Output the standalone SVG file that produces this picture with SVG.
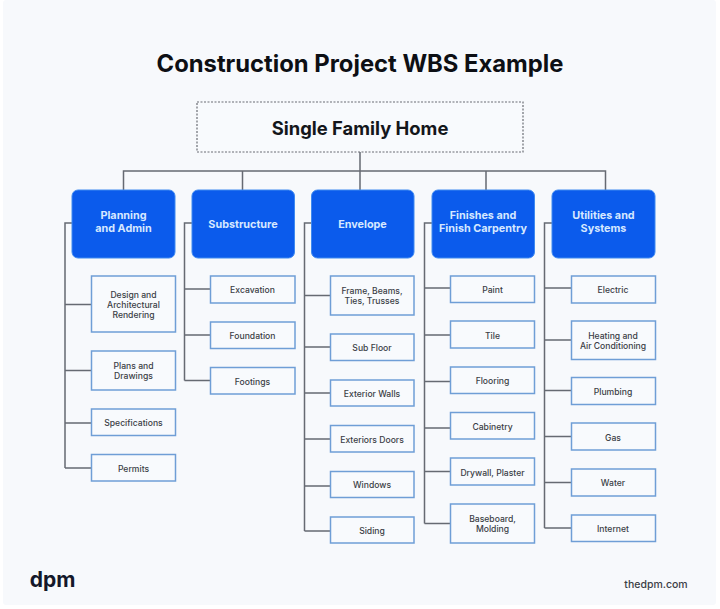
<svg xmlns="http://www.w3.org/2000/svg" width="720" height="609" viewBox="0 0 720 609">
<style>
text{font-family:Inter,"Noto Sans","Liberation Sans",sans-serif;text-anchor:middle}
.t{font-size:23.8px;font-weight:700;fill:#0d0f14}
.r{font-size:18.400px;font-weight:700;fill:#14161b}
.p rect{fill:#0b5bec;stroke:#3f8af0;stroke-width:1}
.p text{font-size:10.800px;font-weight:700;fill:#d6e8ff}
.c rect{fill:#f8fafd;stroke:#6f9ed6;stroke-width:1.5}
.c text{font-size:8.600px;font-weight:500;fill:#3b3e46}
#connectors path{fill:none;stroke:#666a72;stroke-width:1.5}
</style>
<rect width="720" height="609" fill="#fff"/>
<rect x="3" y="0" width="713" height="605" rx="3" fill="#f7f9fc"/>
<text class="t" x="360" y="71.500">Construction Project WBS Example</text>
<g id="connectors">
<path d="M360 152V190M123.500 190V171H605.500V190M242.500 171V190M486 171V190"/>
<path d="M72 223H65V468M65 304.500H91.500M65 370.500H91.500M65 423H91.500M65 468H91.500"/>
<path d="M192 223H184.500V380.500M184.500 289H210.500M184.500 335H210.500M184.500 380.500H210.500"/>
<path d="M311.500 223H304.500V531M304.500 295.500H330.500M304.500 347H330.500M304.500 393H330.500M304.500 439H330.500M304.500 486H330.500M304.500 531H330.500"/>
<path d="M432 223H424.500V523.500M424.500 288H450.500M424.500 335H450.500M424.500 381.500H450.500M424.500 428H450.500M424.500 471.500H450.500M424.500 523.500H450.500"/>
<path d="M552 223H544.500V528M544.500 288H571.500M544.500 340H571.500M544.500 390.500H571.500M544.500 436.500H571.500M544.500 482.500H571.500M544.500 528H571.500"/>
</g>
<g id="root"><rect x="197" y="102" width="326" height="50" fill="#f8fafd" stroke="#6a6d74" stroke-width="1.2" stroke-dasharray="2 1.500"/><text class="r" x="360" y="135">Single Family Home</text></g>
<g id="n-planning" class="p"><rect x="72" y="190" width="103" height="68" rx="6"/><text x="123.500" y="219">Planning</text><text x="123.500" y="231.500">and Admin</text></g>
<g id="n-substructure" class="p"><rect x="192" y="190" width="102.500" height="68" rx="6"/><text x="243" y="228">Substructure</text></g>
<g id="n-envelope" class="p"><rect x="311.500" y="190" width="102.500" height="68" rx="6"/><text x="362.500" y="228">Envelope</text></g>
<g id="n-finishes" class="p"><rect x="432" y="190" width="102.500" height="68" rx="6"/><text x="483" y="219">Finishes and</text><text x="483" y="231.500">Finish Carpentry</text></g>
<g id="n-utilities" class="p"><rect x="552" y="190" width="103" height="68" rx="6"/><text x="603.500" y="219">Utilities and</text><text x="603.500" y="231.500">Systems</text></g>

<g id="c1-1" class="c"><rect x="91.500" y="276" width="84" height="56"/><text x="133.500" y="298">Design and</text><text x="133.500" y="308">Architectural</text><text x="133.500" y="318">Rendering</text></g>
<g id="c1-2" class="c"><rect x="91.500" y="351" width="84" height="39"/><text x="133.500" y="369">Plans and</text><text x="133.500" y="379">Drawings</text></g>
<g id="c1-3" class="c"><rect x="91.500" y="409" width="84" height="26.500"/><text x="133.500" y="426">Specifications</text></g>
<g id="c1-4" class="c"><rect x="91.500" y="454.500" width="84" height="26.500"/><text x="133.500" y="471.500">Permits</text></g>

<g id="c2-1" class="c"><rect x="210.500" y="276" width="84.500" height="27"/><text x="252.500" y="293">Excavation</text></g>
<g id="c2-2" class="c"><rect x="210.500" y="322" width="84.500" height="26.500"/><text x="252.500" y="339">Foundation</text></g>
<g id="c2-3" class="c"><rect x="210.500" y="367.500" width="84.500" height="26.500"/><text x="252.500" y="384.500">Footings</text></g>

<g id="c3-1" class="c"><rect x="330.500" y="276" width="83.500" height="39"/><text x="372" y="294">Frame, Beams,</text><text x="372" y="304">Ties, Trusses</text></g>
<g id="c3-2" class="c"><rect x="330.500" y="334" width="83.500" height="26.500"/><text x="372" y="351">Sub Floor</text></g>
<g id="c3-3" class="c"><rect x="330.500" y="380" width="83.500" height="26"/><text x="372" y="396.500">Exterior Walls</text></g>
<g id="c3-4" class="c"><rect x="330.500" y="425.500" width="83.500" height="26.500"/><text x="372" y="442.500">Exteriors Doors</text></g>
<g id="c3-5" class="c"><rect x="330.500" y="471.500" width="83.500" height="26"/><text x="372" y="488">Windows</text></g>
<g id="c3-6" class="c"><rect x="330.500" y="517" width="83.500" height="26"/><text x="372" y="534">Siding</text></g>

<g id="c4-1" class="c"><rect x="450.500" y="276" width="84" height="26.500"/><text x="492.500" y="293">Paint</text></g>
<g id="c4-2" class="c"><rect x="450.500" y="321" width="84" height="27"/><text x="492.500" y="338.500">Tile</text></g>
<g id="c4-3" class="c"><rect x="450.500" y="367" width="84" height="26.500"/><text x="492.500" y="384">Flooring</text></g>
<g id="c4-4" class="c"><rect x="450.500" y="412.500" width="84" height="26.500"/><text x="492.500" y="429.500">Cabinetry</text></g>
<g id="c4-5" class="c"><rect x="450.500" y="458" width="84" height="27"/><text x="492.500" y="475.500">Drywall, Plaster</text></g>
<g id="c4-6" class="c"><rect x="450.500" y="504" width="84" height="39"/><text x="492.500" y="522">Baseboard,</text><text x="492.500" y="532">Molding</text></g>

<g id="c5-1" class="c"><rect x="571.500" y="276" width="84" height="27"/><text x="613" y="293">Electric</text></g>
<g id="c5-2" class="c"><rect x="571.500" y="321" width="84" height="38.500"/><text x="613" y="339">Heating and</text><text x="613" y="349">Air Conditioning</text></g>
<g id="c5-3" class="c"><rect x="571.500" y="377.500" width="84" height="27"/><text x="613" y="395">Plumbing</text></g>
<g id="c5-4" class="c"><rect x="571.500" y="423" width="84" height="27"/><text x="613" y="440.500">Gas</text></g>
<g id="c5-5" class="c"><rect x="571.500" y="469" width="84" height="27"/><text x="613" y="486">Water</text></g>
<g id="c5-6" class="c"><rect x="571.500" y="515" width="84" height="26.500"/><text x="613" y="532">Internet</text></g>

<text x="52.500" y="587" style="font-size:21px;font-weight:700;fill:#14182a">dpm</text>
<text x="656" y="588" style="font-size:10.500px;font-weight:500;fill:#3b3e46">thedpm.com</text>
</svg>
